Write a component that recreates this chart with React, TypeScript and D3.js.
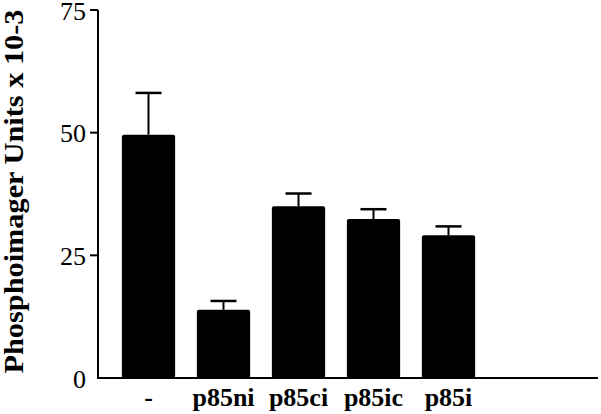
import * as d3 from "d3";

// values
const categories = ["-", "p85ni", "p85ci", "p85ic", "p85i"];
const means = [49.6, 13.9, 35.0, 32.4, 29.1];
const errTops = [58.1, 15.7, 37.6, 34.4, 30.9];
const yTicks = [0, 25, 50, 75];
const yLabel = "Phosphoimager Units x 10-3";

const W = 601;
const H = 414;
const axisX = 98;
const axisRight = 598;

export default function App() {
  const y = d3.scaleLinear().domain([0, 75]).range([378, 10]);
  const x = d3
    .scaleBand()
    .domain(categories)
    .range([111, 486])
    .paddingInner(0.29)
    .paddingOuter(0.145);
  const bw = x.bandwidth();
  const capW = 26;

  return (
    <svg
      width={W}
      height={H}
      style={{ position: "absolute", left: 0, top: 0, background: "#fff" }}
    >
      <style>{`text { font-family: 'Liberation Serif', 'Times New Roman', serif; }`}</style>
      {/* bars */}
      {categories.map((c, i) => {
        const x0 = x(c)!;
        const cx = x0 + bw / 2;
        return (
          <g key={c}>
            <line x1={cx} x2={cx} y1={y(means[i])} y2={y(errTops[i])} stroke="#000" strokeWidth={2} />
            <line x1={cx - capW / 2} x2={cx + capW / 2} y1={y(errTops[i])} y2={y(errTops[i])} stroke="#000" strokeWidth={2.5} />
            <rect x={x0} y={y(means[i])} width={bw} height={y(0) - y(means[i])} fill="#000" rx={2} />
          </g>
        );
      })}

      {/* axes */}
      <line x1={axisX} x2={axisX} y1={y(0)} y2={y(75)} stroke="#000" strokeWidth={2} />
      <line x1={axisX - 1} x2={axisRight} y1={y(0)} y2={y(0)} stroke="#000" strokeWidth={2} />
      {yTicks.map((t) => (
        <g key={t}>
          {t > 0 && (
            <line x1={axisX - 8} x2={axisX} y1={y(t)} y2={y(t)} stroke="#000" strokeWidth={2} />
          )}
          <text x={86} y={y(t) + 9.5} textAnchor="end" fontSize={26} fill="#000">
            {t}
          </text>
        </g>
      ))}

      {categories.map((c) => (
        <text
          key={c}
          x={x(c)! + bw / 2}
          y={406}
          textAnchor="middle"
          fontSize={26}
          fontWeight="bold"
          fill="#000"
        >
          {c}
        </text>
      ))}

      <text
        transform={`translate(23,${(376 + 7) / 2}) rotate(-90)`}
        textAnchor="middle"
        fontSize={27}
        fontWeight="bold"
        fill="#000"
        textLength={364}
        lengthAdjust="spacingAndGlyphs"
      >
        {yLabel}
      </text>
    </svg>
  );
}
